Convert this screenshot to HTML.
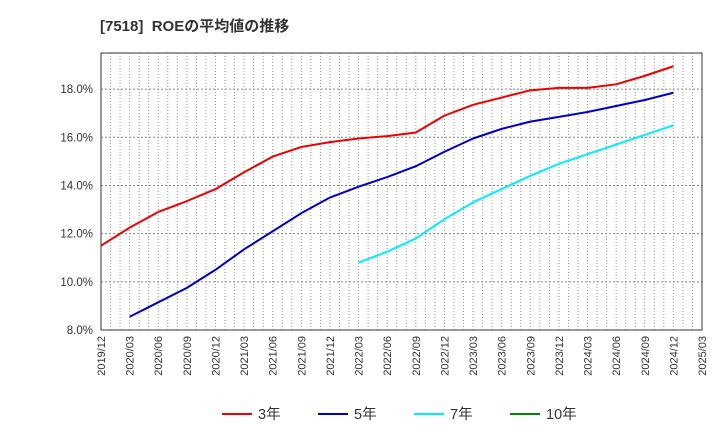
<!DOCTYPE html>
<html><head><meta charset="utf-8"><style>
body{margin:0;background:#fff;font-family:"Liberation Sans","Noto Sans CJK JP",sans-serif}
</style></head><body>
<svg id="c" width="720" height="440" xmlns="http://www.w3.org/2000/svg">
<text x="100" y="31" font-size="15" font-weight="bold" fill="#333" font-family="Liberation Sans, Noto Sans CJK JP, sans-serif" xml:space="preserve">[7518]  ROEの平均値の推移</text>
<g id="grid"></g><g id="axes"></g><g id="series"></g><g id="legend"></g>
</svg>
<script>
const xLabels=["2019/12","2020/03","2020/06","2020/09","2020/12","2021/03","2021/06","2021/09","2021/12","2022/03","2022/06","2022/09","2022/12","2023/03","2023/06","2023/09","2023/12","2024/03","2024/06","2024/09","2024/12","2025/03"];
const yTicks=[8,10,12,14,16,18];
const s3=[11.5,12.25,12.9,13.35,13.85,14.55,15.2,15.6,15.8,15.95,16.05,16.2,16.9,17.35,17.65,17.95,18.05,18.05,18.2,18.55,18.95];
const s5=[8.55,9.15,9.75,10.5,11.35,12.1,12.85,13.5,13.95,14.35,14.8,15.4,15.95,16.35,16.65,16.85,17.05,17.3,17.55,17.85];
const s7=[10.8,11.25,11.8,12.6,13.3,13.85,14.4,14.9,15.3,15.7,16.1,16.5];
const s10=[];
const L=101,R=702,T=53,B=330,yMin=8,yMax=19.5;
const NS="http://www.w3.org/2000/svg";
const xq=i=>L+(R-L)*i/(xLabels.length-1);
const y=v=>B-(v-yMin)/(yMax-yMin)*(B-T);
function mk(t,a,p){const e=document.createElementNS(NS,t);for(const k in a)e.setAttribute(k,a[k]);p.appendChild(e);return e;}
const g=document.getElementById('grid'),ax=document.getElementById('axes'),sg=document.getElementById('series'),lg=document.getElementById('legend');
for(let m=1;m<(xLabels.length-1)*3;m++){const x=L+(R-L)*m/((xLabels.length-1)*3);
const l=mk('line',{x1:x,x2:x,y1:T,y2:B,stroke:'#999','stroke-dasharray':'1,2','stroke-width':1},g);
}
yTicks.forEach(v=>{const l=mk('line',{x1:L,x2:R,y1:y(v),y2:y(v),stroke:'#888','stroke-dasharray':'2,2'},g);

const t=mk('text',{x:L-8,y:y(v)+4,'text-anchor':'end','font-size':11.5,fill:'#333'},ax);t.textContent=v.toFixed(1)+'%';
});
const fr=mk('rect',{x:L,y:T,width:R-L,height:B-T,fill:'none',stroke:'#333'},ax);

xLabels.forEach((s,i)=>{const x=xq(i);const t=mk('text',{x:x+4,y:B+6,'text-anchor':'end','font-size':11,fill:'#333',transform:`rotate(-90 ${x+4} ${B+6})`},ax);t.textContent=s;
});
function line(d,off,col,name){if(!d.length)return;const p=mk('polyline',{points:d.map((v,i)=>xq(i+off)+','+y(v)).join(' '),fill:'none',stroke:col,'stroke-width':2,'stroke-linejoin':'round'},sg);
}
line(s3,0,'#e00','series-3yr');line(s5,1,'#00c','series-5yr');line(s7,9,'#0ef','series-7yr');line(s10,0,'#080','series-10yr');
[['3年','#e00',222],['5年','#00c',318],['7年','#0ef',414],['10年','#080',510]].forEach(([n,c,x])=>{
const gg=mk('g',{},lg);
mk('line',{x1:x,x2:x+30,y1:414,y2:414,stroke:c,'stroke-width':2},gg);
const t=mk('text',{x:x+36,y:419,'font-size':14.5,fill:'#333'},gg);t.textContent=n;});
</script>
</body></html>
